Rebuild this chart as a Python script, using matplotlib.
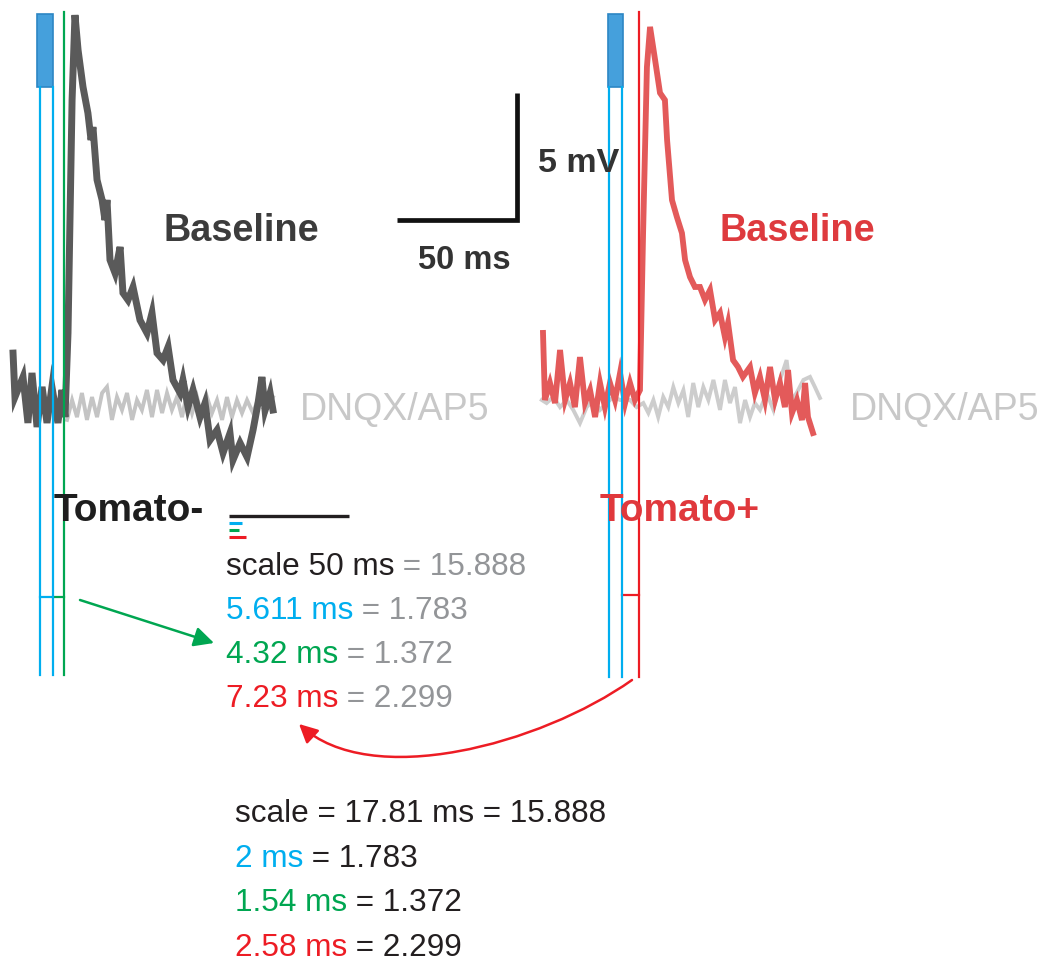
import matplotlib
matplotlib.use("Agg")
import matplotlib.pyplot as plt
from matplotlib.patches import Rectangle, FancyArrowPatch
from matplotlib.path import Path

plt.rcParams['font.family'] = ['Liberation Sans', 'DejaVu Sans']

W, H = 1046, 963
PX_PER_MS = 2.4
PX_PER_MV = 25.4

# ---------------- data ----------------
# Tomato- panel (time in ms, voltage in mV)
neg_base_t = [-0.4, 0.4, 3.75, 5.8, 7.5, 9.6, 11.7, 13.75, 15.8, 18.3, 20.0, 21.25, 22.5, 24.2,
              25.4, 26.7, 28.75, 30.8, 32.1, 32.9, 34.6, 36.7, 37.9, 38.75, 40.0, 42.1, 44.2,
              45.4, 47.5, 49.6, 52.5, 55.4, 57.5, 59.6, 62.1, 64.2, 66.25, 69.2, 70.4, 72.5,
              74.6, 77.5, 79.6, 81.7, 84.6, 87.1, 90.0, 91.25, 94.2, 97.1, 99.6, 101.7, 103.3,
              104.6, 106.7, 107.9]
neg_base_v = [2.24, 0.51, 1.30, -0.51, 1.46, -0.67, 0.91, -0.51, 0.91, -0.51, 0.79, -0.28, 3.03,
              12.2, 15.55, 14.17, 12.72, 11.69, 10.63, 11.14, 9.06, 8.27, 7.48, 8.27, 5.91, 5.39,
              6.42, 4.61, 4.33, 4.84, 3.54, 3.03, 3.82, 2.24, 1.97, 2.48, 1.18, 0.67, 1.18, 0.12,
              0.79, -0.28, 0.28, -1.18, -0.79, -1.69, -0.91, -1.97, -1.30, -1.85, -0.79, 0.28,
              1.30, 0.0, 0.67, 0.0]
neg_dnqx_t = [22.1, 24.2, 26.25, 28.3, 30.4, 32.5, 34.6, 36.7, 38.75, 40.8, 42.9, 45.0, 47.1,
              49.2, 51.25, 53.3, 55.4, 57.5, 59.6, 61.7, 63.75, 65.8, 67.9, 70.0, 72.1, 74.2,
              76.25, 78.3, 80.4, 82.5, 84.6, 86.7, 88.75, 90.8, 92.9, 95.0, 97.1, 99.6, 102.5,
              105.4, 107.9]
neg_dnqx_v = [-0.39, 0.39, -0.28, 0.67, -0.39, 0.51, -0.28, 0.67, 0.91, -0.39, 0.51, 0.0, 0.67,
              -0.39, 0.39, 0.0, 0.79, -0.28, 0.79, -0.12, 0.67, 0.0, 0.51, -0.28, 0.67, -0.12,
              0.51, -0.28, 0.51, -0.12, 0.39, -0.39, 0.51, -0.28, 0.39, -0.12, 0.39, -0.12, 0.67,
              0.0, 0.51]

# Tomato+ panel
pos_base_t = [0.0, 0.8, 2.9, 5.0, 7.1, 9.2, 11.25, 13.3, 15.4, 17.5, 19.6, 21.7, 23.75, 25.8,
              27.9, 30.0, 32.1, 34.2, 36.25, 38.3, 40.4, 41.7, 43.3, 44.6, 46.7, 48.75, 50.8,
              51.7, 53.75, 55.8, 57.9, 59.2, 61.25, 63.3, 65.4, 67.5, 69.6, 71.7, 73.75, 75.8,
              77.1, 79.2, 81.25, 83.3, 86.25, 88.3, 90.4, 92.5, 94.6, 96.7, 98.75, 100.8, 102.1,
              103.75, 105.8, 107.9, 109.2, 110.4, 112.5]
pos_base_v = [2.64, 0.0, 0.67, -0.12, 1.97, 0.0, 0.67, -0.28, 1.69, -0.12, 0.39, -0.67, 0.67,
              -0.28, 0.67, 0.0, 1.06, -0.12, 0.67, 0.0, 0.39, 6.57, 13.11, 14.69, 13.39, 12.09,
              11.81, 10.24, 7.87, 7.20, 6.57, 5.51, 4.84, 4.45, 4.45, 3.94, 4.33, 3.15, 3.43,
              2.48, 3.03, 1.57, 1.30, 0.91, 1.30, 0.28, 0.91, 0.0, 1.30, 0.0, 0.67, -0.28, 1.18,
              -0.51, 0.0, -0.79, 0.67, -0.67, -1.30]
pos_dnqx_t = [-0.5, 1.5, 4.3, 7.1, 9.9, 12.6, 15.4, 18.2, 21.0, 23.75, 26.5, 29.3, 32.1, 36.25,
              39.0, 41.8, 43.9, 46.0, 48.0, 50.1, 52.2, 54.3, 56.4, 58.5, 60.5, 62.6, 64.7, 66.8,
              68.9, 71.0, 73.75, 75.8, 77.9, 80.0, 82.1, 84.2, 86.25, 88.3, 90.4, 93.2, 96.0,
              98.75, 101.5, 103.6, 105.7, 108.5, 111.25, 113.3, 115.4]
pos_dnqx_v = [0.0, -0.12, 0.12, -0.28, 0.0, -0.39, -0.91, -0.28, 0.0, -0.39, -0.12, 0.12, 0.0,
              0.0, -0.28, -0.12, -0.51, 0.0, -0.67, 0.12, -0.28, 0.51, -0.12, 0.39, -0.67, 0.67,
              -0.28, 0.51, 0.0, 0.79, -0.39, 0.79, -0.12, 0.51, -0.91, 0.0, -0.67, -0.12, -0.39,
              0.28, -0.39, 0.79, 1.57, 0.0, 0.28, 0.79, 0.91, 0.51, 0.08]

# stimulus / cursor times (ms)
neg_light = (9.6, 16.25)
neg_blue_cursors = [10.8, 16.25]
neg_onset = 20.8
pos_light = (27.1, 33.3)
pos_blue_cursors = [27.5, 32.9]
pos_onset = 40.0

# scale bar
scale_ms = 50
scale_mv = 5

# measured lengths (arbitrary units) for the mini legend
measure_labels = ['scale 50 ms', '5.611 ms', '4.32 ms', '7.23 ms']
measure_units = [15.888, 1.783, 1.372, 2.299]
converted_labels = ['scale = 17.81 ms', '2 ms', '1.54 ms', '2.58 ms']

# ---------------- styles ----------------
BLUE = '#00aeef'
GREEN = '#00a651'
RED = '#ed1c24'
GRAYTXT = '#939598'
BLACK = '#231f20'
measure_colors = [BLACK, BLUE, GREEN, RED]

fig = plt.figure(figsize=(W / 100, H / 100), dpi=100)
fig.patch.set_facecolor('white')


def panel_axes(box, origin):
    left, top, right, bottom = box
    ax = fig.add_axes([left / W, 1 - bottom / H, (right - left) / W, (bottom - top) / H])
    ox, oy = origin
    ax.set_xlim((left - ox) / PX_PER_MS, (right - ox) / PX_PER_MS)
    ax.set_ylim((oy - bottom) / PX_PER_MV, (oy - top) / PX_PER_MV)
    ax.axis('off')
    ax.patch.set_alpha(0)
    return ax


def v_at(py, oy):
    return (oy - py) / PX_PER_MV


# ---------- left panel ----------
axL = panel_axes((0, 0, 530, 700), (14, 410))
axL.plot(neg_dnqx_t, neg_dnqx_v, color='#c4c4c4', lw=2.8, zorder=2, solid_joinstyle='miter')
axL.plot(neg_base_t, neg_base_v, color='#5a5a5a', lw=5.0, zorder=3, solid_joinstyle='miter')
axL.add_patch(Rectangle((neg_light[0], v_at(87, 410)), neg_light[1] - neg_light[0],
                        v_at(14, 410) - v_at(87, 410), facecolor='#45a0dc',
                        edgecolor='#2c86c4', lw=1.2, zorder=4))
for t in neg_blue_cursors:
    axL.plot([t, t], [v_at(675, 410), v_at(87, 410)], color=BLUE, lw=1.6, zorder=5)
axL.plot([neg_onset, neg_onset], [v_at(675, 410), v_at(12, 410)], color=GREEN, lw=1.6, zorder=5)
axL.plot([neg_blue_cursors[0], neg_blue_cursors[1]], [v_at(597, 410)] * 2, color=BLUE, lw=1.6)
axL.plot([neg_blue_cursors[1], neg_onset], [v_at(597, 410)] * 2, color=GREEN, lw=1.6)

# scale bar
sb_t = 209.6
sb_v = v_at(220, 410)
axL.plot([sb_t - scale_ms, sb_t, sb_t], [sb_v, sb_v, sb_v + scale_mv], color='#111111',
         lw=3.4, solid_joinstyle='miter', solid_capstyle='butt')

# ---------- right panel ----------
axR = panel_axes((520, 0, 1046, 700), (543, 400))
axR.plot(pos_dnqx_t, pos_dnqx_v, color='#cdcdcd', lw=2.8, zorder=2, solid_joinstyle='miter')
axR.plot(pos_base_t, pos_base_v, color='#e35a5a', lw=4.2, zorder=3, solid_joinstyle='miter')
axR.add_patch(Rectangle((pos_light[0], v_at(87, 400)), pos_light[1] - pos_light[0],
                        v_at(14, 400) - v_at(87, 400), facecolor='#45a0dc',
                        edgecolor='#2c86c4', lw=1.2, zorder=4))
for t in pos_blue_cursors:
    axR.plot([t, t], [v_at(677, 400), v_at(87, 400)], color=BLUE, lw=1.6, zorder=5)
axR.plot([pos_onset, pos_onset], [v_at(677, 400), v_at(12, 400)], color=RED, lw=1.6, zorder=5)
axR.plot([pos_blue_cursors[1], pos_onset], [v_at(595, 400)] * 2, color=RED, lw=1.6)

# ---------- overlay (pixel layout) ----------
ov = fig.add_axes([0, 0, 1, 1])
ov.set_xlim(0, W)
ov.set_ylim(H, 0)
ov.axis('off')
ov.patch.set_alpha(0)

ov.text(164, 241, 'Baseline', fontsize=27.3, fontweight='bold', color='#3c3c3c', va='baseline')
ov.text(300, 420, 'DNQX/AP5', fontsize=27, color='#c8c8c8', va='baseline')
ov.text(54, 521, 'Tomato-', fontsize=28, fontweight='bold', color='#1e1e1e', va='baseline',
        zorder=1)
ov.text(720, 241, 'Baseline', fontsize=27.3, fontweight='bold', color='#de3a3e', va='baseline')
ov.text(850, 420, 'DNQX/AP5', fontsize=27, color='#c8c8c8', va='baseline')
ov.text(600, 521, 'Tomato+', fontsize=28, fontweight='bold', color='#e0383c', va='baseline',
        zorder=1)
ov.text(538, 172, '5 mV', fontsize=24.5, fontweight='bold', color='#333333', va='baseline')
ov.text(418, 269, '50 ms', fontsize=23.5, fontweight='bold', color='#333333', va='baseline')

# mini legend lines from the measured values
px_per_unit = 120 / measure_units[0]
for i, (u, c) in enumerate(zip(measure_units, measure_colors)):
    y = 516 + (0 if i == 0 else 7 * i)
    ov.plot([229, 229 + u * px_per_unit], [y, y], color=c, lw=2.4 if i == 0 else 2.2,
            solid_capstyle='butt')


def colored_line(x, y, parts, size=22.7):
    prev = None
    for s, c in parts:
        if prev is None:
            prev = ov.text(x, y, s, fontsize=size, color=c, va='baseline', ha='left')
        else:
            prev = ov.annotate(s, xy=(1, 0), xycoords=prev, fontsize=size, color=c,
                               va='bottom', ha='left')


for i, (lab, u, c) in enumerate(zip(measure_labels, measure_units, measure_colors)):
    colored_line(226, 575 + 44 * i, [(lab, c), (' = %g' % u, GRAYTXT)])

for i, (lab, u, c) in enumerate(zip(converted_labels, measure_units, measure_colors)):
    colored_line(235, 822 + 44.7 * i, [(lab, c), (' = %g' % u, BLACK)])

# arrows
ov.add_patch(FancyArrowPatch((80, 600), (214, 643), arrowstyle='-|>', mutation_scale=30,
                             color=GREEN, lw=1.8, shrinkA=0, shrinkB=0))
curve = Path([(632, 680), (540, 745), (370, 790), (299, 724)],
             [Path.MOVETO, Path.CURVE4, Path.CURVE4, Path.CURVE4])
ov.add_patch(FancyArrowPatch(path=curve, arrowstyle='-|>', mutation_scale=28, color=RED,
                             lw=1.8))

fig.savefig('out.png', dpi=100, facecolor='white')
